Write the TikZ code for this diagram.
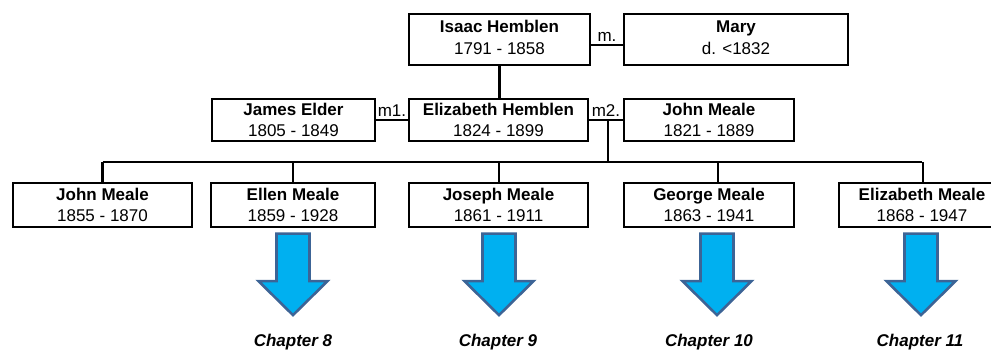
\documentclass[tikz,border=0pt]{standalone}
\usepackage{fontspec}
\setmainfont{Liberation Sans}
\usetikzlibrary{calc}
\definecolor{arrowfill}{HTML}{00B0F0}
\definecolor{arrowline}{HTML}{3C6496}
\begin{document}
\begin{tikzpicture}[x=1pt,y=-1pt,
  person/.style={draw, line width=2.2pt, rectangle, inner sep=0pt, align=center, font=\fontsize{17}{21.5}\selectfont},
  mlabel/.style={font=\fontsize{17}{20}\selectfont, inner sep=0pt, anchor=base},
  chap/.style={font=\fontsize{17}{20}\selectfont\bfseries\itshape, inner sep=0pt},
  link/.style={line width=2.1pt},
  bigarrow/.style={fill=arrowfill, draw=arrowline, line width=2.6pt, line join=miter}
]
\useasboundingbox (0,0) rectangle (991,351);
\clip (0,0) rectangle (991,351);
% row 1
\node[person, minimum width=181, minimum height=51] (isaac) at (499.5,39.5) {\textbf{Isaac Hemblen}\\1791 - 1858\rule[-4pt]{0pt}{1pt}};
\node[person, minimum width=224, minimum height=51] (mary) at (736,39.5) {\textbf{Mary}\\d. <1832\rule[-4pt]{0pt}{1pt}};
% row 2
\node[person, minimum width=163, minimum height=42] (james) at (293.5,120) {\textbf{James Elder}\\1805 - 1849};
\node[person, minimum width=179, minimum height=42] (eliz) at (498.5,120) {\textbf{Elizabeth Hemblen}\\1824 - 1899};
\node[person, minimum width=170, minimum height=42] (johnm) at (709,120) {\textbf{John Meale}\\1821 - 1889};
% row 3
\node[person, minimum width=179, minimum height=44] (c1) at (102.5,205) {\textbf{John Meale}\\1855 - 1870};
\node[person, minimum width=164, minimum height=44] (c2) at (293,205) {\textbf{Ellen Meale}\\1859 - 1928};
\node[person, minimum width=179, minimum height=44] (c3) at (498.5,205) {\textbf{Joseph Meale}\\1861 - 1911};
\node[person, minimum width=170, minimum height=44] (c4) at (709,205) {\textbf{George Meale}\\1863 - 1941};
\node[person, minimum width=166, minimum height=44] (c5) at (922,205) {\textbf{Elizabeth Meale}\\1868 - 1947};
% marriages
\draw[link] ([yshift=-5.5pt]isaac.east) -- ([yshift=-5.5pt]mary.west);
\node[mlabel] (lm) at ($([yshift=-5.5pt]isaac.east)!0.5!([yshift=-5.5pt]mary.west)+(0,-4)$) {m.};
\draw[link] (james.east) -- (eliz.west);
\node[mlabel] (lm1) at ($(james.east)!0.5!(eliz.west)+(0,-4)$) {m1.};
\draw[link] (eliz.east) -- (johnm.west);
\node[mlabel] (lm2) at ($(eliz.east)!0.5!(johnm.west)+(0,-4)$) {m2.};
% descent
\draw[link] (isaac.south) -- (isaac.south |- eliz.north);
\coordinate (m2c) at ($(eliz.east)!0.55!(johnm.west)$);
\coordinate (bar) at (0,162);
\draw[link] (m2c) -- (m2c |- bar);
\draw[link] (c1.north |- bar) -- (c5.north |- bar);
\foreach \b/\dx in {c1/0, c2/0, c3/0.5, c4/9, c5/1} {
  \draw[link] ([xshift=\dx pt]\b.north |- bar) -- ([xshift=\dx pt]\b.north);
}
% arrows
\foreach \b/\dx in {c2/0, c3/0.5, c4/8, c5/-1} {
  \draw[bigarrow] ($(\b.south)+(\dx,5.5)$) ++(-16.5,0) -- ++(33,0) -- ++(0,47.5) -- ++(18,0) -- ++(-34.5,34) -- ++(-34.5,-34) -- ++(18,0) -- cycle;
}
% chapters
\node[chap] (ch8) at (293,342) {Chapter 8};
\node[chap] (ch9) at (498,342) {Chapter 9};
\node[chap] (ch10) at (709,342) {Chapter 10};
\node[chap] (ch11) at (920,342) {Chapter 11};
\end{tikzpicture}
\end{document}
